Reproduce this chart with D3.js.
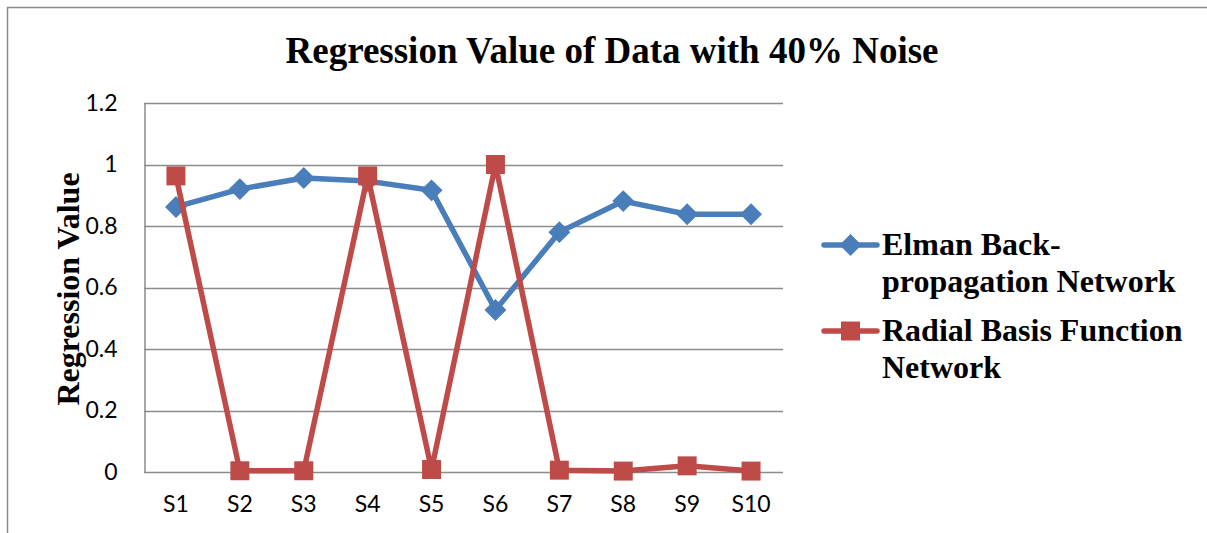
<!DOCTYPE html>
<html>
<head>
<meta charset="utf-8">
<script src="https://cdn.jsdelivr.net/npm/d3@7"></script>
<style>
  body { margin: 0; background: #fff; }
  svg { display: block; }
</style>
</head>
<body>
<svg id="chart" width="1207" height="533"></svg>
<script>
// data
var categories = ["S1", "S2", "S3", "S4", "S5", "S6", "S7", "S8", "S9", "S10"];
var elmanValues = [0.862, 0.92, 0.956, 0.946, 0.916, 0.527, 0.78, 0.881, 0.838, 0.838];
var rbfValues = [0.963, 0.004, 0.004, 0.963, 0.008, 1.0, 0.006, 0.003, 0.02, 0.003];
var yTicks = [0, 0.2, 0.4, 0.6, 0.8, 1, 1.2];
var seriesNames = ["Elman Back-|propagation Network", "Radial Basis Function|Network"];

var blue = "#4a7ebb", red = "#be4b48";
var serif = "'Liberation Serif', 'Times New Roman', serif";
var sans = "Lato, 'Open Sans', sans-serif";

var svg = d3.select("#chart");

// outer frame (only top and left show)
svg.append("path")
    .attr("d", "M7.5,533 L7.5,7.5 L1207,7.5")
    .attr("fill", "none")
    .attr("stroke", "#8c8c8c")
    .attr("stroke-width", 1.5);

var plot = { left: 144, right: 783, top: 103, bottom: 472 };

var x = d3.scaleBand()
    .domain(categories)
    .range([plot.left, plot.right]);

var y = d3.scaleLinear()
    .domain([0, 1.2])
    .range([plot.bottom, plot.top]);

// gridlines
svg.append("g")
    .selectAll("line")
    .data(yTicks)
    .enter().append("line")
    .attr("x1", plot.left)
    .attr("x2", plot.right)
    .attr("y1", function(d) { return Math.round(y(d)) + 0.5; })
    .attr("y2", function(d) { return Math.round(y(d)) + 0.5; })
    .attr("stroke", "#8c8c8c")
    .attr("stroke-width", 1.5);

// y axis
var yAxis = svg.append("g")
    .attr("transform", "translate(" + (plot.left + 0.5) + ",0)")
    .call(d3.axisLeft(y).tickValues(yTicks).tickSize(0).tickPadding(27)
        .tickFormat(function(d) { return d; }));
yAxis.select(".domain").attr("stroke", "#8c8c8c").attr("stroke-width", 1.5);
yAxis.selectAll("text")
    .attr("font-family", sans)
    .attr("font-size", 23)
    .attr("fill", "#000");

// x axis labels
var xAxis = svg.append("g")
    .attr("transform", "translate(0," + plot.bottom + ")")
    .call(d3.axisBottom(x).tickSize(0).tickPadding(24));
xAxis.select(".domain").remove();
xAxis.selectAll("text")
    .attr("font-family", sans)
    .attr("font-size", 23)
    .attr("fill", "#000");

// title
svg.append("text")
    .attr("x", 612)
    .attr("y", 63)
    .attr("text-anchor", "middle")
    .attr("font-family", serif)
    .attr("font-weight", "bold")
    .attr("font-size", 37)
    .text("Regression Value of Data with 40% Noise");

// y axis title
svg.append("text")
    .attr("transform", "translate(79,289) rotate(-90)")
    .attr("text-anchor", "middle")
    .attr("font-family", serif)
    .attr("font-weight", "bold")
    .attr("font-size", 32)
    .text("Regression Value");

var cx = function(i) { return x(categories[i]) + x.bandwidth() / 2; };

var line = d3.line()
    .x(function(d, i) { return cx(i); })
    .y(function(d) { return y(d); });

function drawSeries(values, color, diamond) {
    var g = svg.append("g");
    g.append("path")
        .datum(values)
        .attr("d", line)
        .attr("fill", "none")
        .attr("stroke", color)
        .attr("stroke-width", 5.5)
        .attr("stroke-linejoin", "round");

    g.selectAll(".marker")
        .data(values)
        .enter().append("path")
        .attr("class", "marker")
        .attr("d", d3.symbol().type(d3.symbolSquare).size(diamond ? 240 : 360))
        .attr("transform", function(d, i) {
            return "translate(" + cx(i) + "," + y(d) + ")" + (diamond ? " rotate(45)" : "");
        })
        .attr("fill", color);
}

drawSeries(elmanValues, blue, true);
drawSeries(rbfValues, red, false);

// legend
var legend = svg.append("g");
var legendRows = [
    { name: seriesNames[0], color: blue, diamond: true, y: 245 },
    { name: seriesNames[1], color: red, diamond: false, y: 331 }
];
legendRows.forEach(function(row) {
    legend.append("line")
        .attr("x1", 824).attr("x2", 877)
        .attr("y1", row.y).attr("y2", row.y)
        .attr("stroke", row.color)
        .attr("stroke-width", 5.5)
        .attr("stroke-linecap", "round");
    legend.append("path")
        .attr("d", d3.symbol().type(d3.symbolSquare).size(row.diamond ? 240 : 360))
        .attr("transform", "translate(850.5," + row.y + ")" + (row.diamond ? " rotate(45)" : ""))
        .attr("fill", row.color);
    var t = legend.append("text")
        .attr("font-family", serif)
        .attr("font-weight", "bold")
        .attr("font-size", 32)
        .attr("fill", "#000");
    row.name.split("|").forEach(function(part, i) {
        t.append("tspan")
            .attr("x", 882)
            .attr("y", row.y + 10 + i * 37)
            .text(part);
    });
});
</script>
</body>
</html>
